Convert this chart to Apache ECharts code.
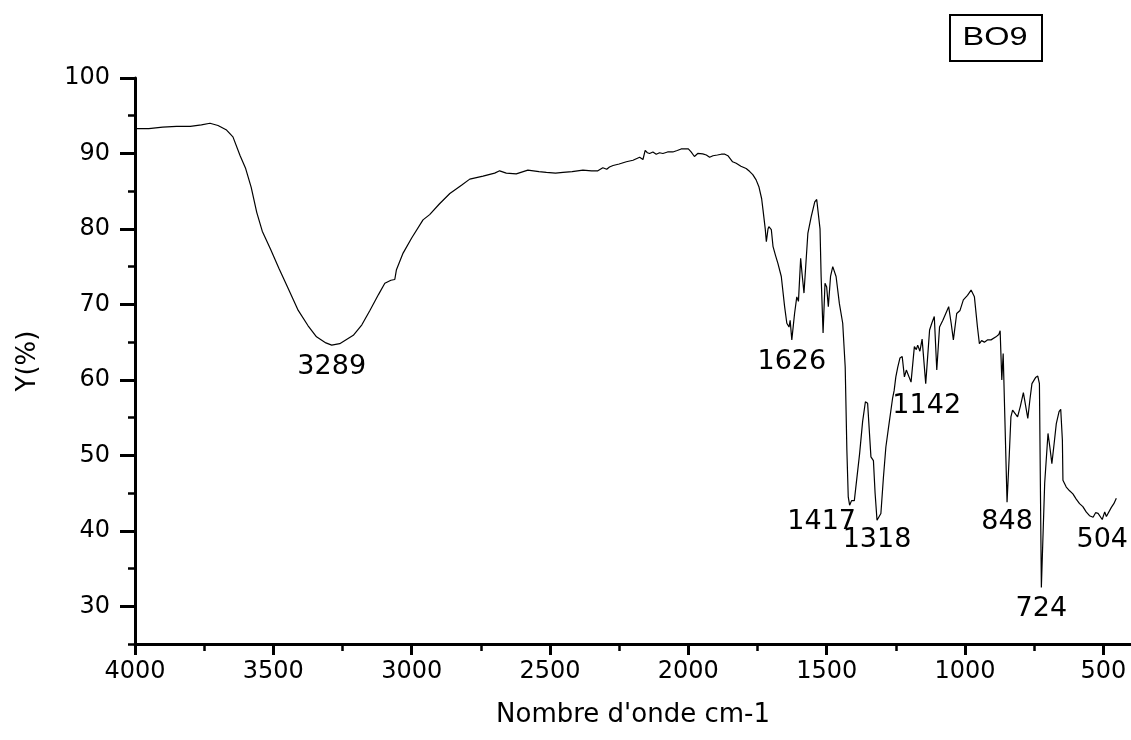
<!DOCTYPE html>
<html>
<head>
<meta charset="utf-8">
<title>BO9 IR spectrum</title>
<script src="https://cdn.jsdelivr.net/npm/echarts@6/dist/echarts.min.js"></script>
<style>
  html, body { margin: 0; padding: 0; background: #fff; }
  #chart { width: 1131px; height: 740px; }
</style>
</head>
<body>
<div id="chart"></div>
<script>
// Wavenumber (cm-1) and transmittance (%) of sample BO9
var wavenumber = [
  4000, 3950, 3900, 3850, 3800, 3760, 3729, 3700, 3669, 3646, 3620, 3600, 3580, 3560, 3540,
  3510, 3480, 3450, 3410, 3375, 3344, 3310, 3289, 3260, 3211, 3180, 3151, 3120, 3097, 3075,
  3061, 3055, 3031, 3000, 2959, 2935, 2900, 2862, 2820, 2790, 2742, 2700, 2682, 2658, 2622,
  2580, 2540, 2513, 2480, 2453, 2420, 2381, 2350, 2327, 2320, 2309, 2295, 2285, 2272, 2250,
  2224, 2200, 2188, 2176, 2164, 2156, 2148, 2140, 2128, 2116, 2104, 2092, 2075, 2056, 2040,
  2026, 2008, 2000, 1990, 1978, 1966, 1948, 1935, 1923, 1911, 1895, 1881, 1868, 1857, 1840,
  1827, 1810, 1791, 1778, 1767, 1755, 1745, 1735, 1730, 1722, 1718, 1712, 1709, 1700, 1694,
  1685, 1676, 1664, 1652, 1644, 1636, 1632, 1626, 1616, 1608, 1602, 1594, 1589, 1582, 1576,
  1568, 1556, 1543, 1536, 1530, 1524, 1520, 1513, 1506, 1500, 1494, 1486, 1478, 1466, 1454,
  1442, 1433, 1427, 1422, 1417, 1410, 1400, 1381, 1370, 1360, 1352, 1340, 1331, 1325, 1318,
  1304, 1295, 1286, 1276, 1262, 1256, 1250, 1243, 1235, 1227, 1219, 1212, 1207, 1195, 1183,
  1176, 1171, 1163, 1155, 1142, 1128, 1120, 1111, 1102, 1092, 1080, 1059, 1050, 1042, 1030,
  1018, 1006, 991, 978, 966, 955, 948, 940, 930, 918, 906, 888, 878, 873, 867,
  862, 856, 848, 840, 834, 828, 822, 810, 800, 789, 773, 765, 758, 745, 737,
  731, 724, 712, 700, 693, 686, 678, 670, 660, 654, 648, 646, 634, 622, 610,
  598, 586, 574, 562, 550, 537, 528, 519, 504, 495, 489, 483, 471, 462, 453
];
var transmittance = [
  93.3, 93.3, 93.5, 93.6, 93.6, 93.8, 94.0, 93.7, 93.1, 92.2, 89.7, 88.0, 85.5, 82.2, 79.7,
  77.3, 74.8, 72.4, 69.2, 67.2, 65.7, 64.9, 64.6, 64.8, 65.9, 67.3, 69.2, 71.3, 72.8, 73.2,
  73.3, 74.6, 76.8, 78.8, 81.2, 81.9, 83.3, 84.7, 85.8, 86.6, 87.0, 87.4, 87.7, 87.4, 87.3,
  87.8, 87.6, 87.5, 87.4, 87.5, 87.6, 87.8, 87.7, 87.7, 87.6, 88.1, 87.9, 88.2, 88.4, 88.6,
  88.9, 89.1, 89.3, 89.5, 89.2, 90.4, 90.1, 90.0, 90.2, 89.9, 90.1, 90.0, 90.2, 90.2, 90.4,
  90.6, 90.6, 90.6, 90.2, 89.6, 90.0, 89.95, 89.8, 89.5, 89.7, 89.8, 89.9, 89.9, 89.7, 88.9,
  88.7, 88.3, 88.0, 87.6, 87.2, 86.5, 85.6, 84.0, 82.5, 80.0, 78.3, 80.0, 80.3, 79.9, 77.7,
  76.5, 75.4, 73.7, 69.7, 67.5, 67.0, 67.9, 65.3, 68.8, 71.0, 70.4, 76.1, 74.1, 71.5, 71.7,
  79.4, 81.6, 83.6, 83.9, 83.8, 80.0, 73.7, 66.2, 72.8, 72.3, 69.7, 73.7, 75.0, 73.7, 70.1,
  67.5, 61.7, 50.7, 44.5, 43.4, 44.0, 44.0, 50.2, 54.5, 57.1, 56.9, 49.8, 49.3, 45.0, 41.4,
  42.3, 47.0, 51.1, 53.8, 57.5, 58.6, 60.4, 61.7, 62.9, 63.1, 60.4, 61.3, 61.1, 59.7, 64.4,
  64.0, 64.6, 63.8, 65.4, 59.5, 66.6, 67.5, 68.4, 61.3, 67.0, 67.9, 69.7, 67.5, 65.3, 68.8,
  69.2, 70.6, 71.2, 71.9, 71.0, 67.0, 64.8, 65.2, 65.0, 65.3, 65.3, 65.7, 66.0, 66.5, 60.0,
  63.5, 55.0, 43.8, 50.0, 55.1, 56.0, 56.0, 55.1, 56.5, 58.3, 54.9, 57.5, 59.5, 60.3, 60.5,
  59.5, 32.5, 46.3, 52.9, 51.0, 48.9, 51.5, 54.2, 55.8, 56.1, 52.0, 46.7, 45.8, 45.3, 44.9,
  44.2, 43.6, 43.2, 42.5, 42.0, 41.8, 42.4, 42.3, 41.5, 42.5, 41.9, 41.8, 43.1, 43.6, 44.3
];

// Labelled absorption bands (wavenumbers written under the peaks)
var peakBands = [3289, 1626, 1417, 1318, 1142, 848, 724, 504];
var peakLabelOffsets = [[0, 22], [0, 22], [-28, 17], [0, 20], [1, 22], [0, 20], [0, 22], [0, 21]];

// Axis ticks
var xMajorTicks = [4000, 3500, 3000, 2500, 2000, 1500, 1000, 500];
var xMinorTicks = [3750, 3250, 2750, 2250, 1750, 1250, 750];
var yMajorTicks = [30, 40, 50, 60, 70, 80, 90, 100];
var yMinorTicks = [25, 35, 45, 55, 65, 75, 85, 95];

var sampleName = 'BO9';
var xTitle = "Nombre d'onde cm-1";
var yTitle = 'Y(%)';

var FONT = 'DejaVu Sans';
var points = wavenumber.map(function (w, i) { return [w, transmittance[i]]; });

var markData = peakBands.map(function (w, i) {
  var idx = wavenumber.indexOf(w);
  return {
    name: String(w),
    coord: [w, transmittance[idx]],
    label: { offset: peakLabelOffsets[i] }
  };
});

function plainNumber(v) { return String(v); }

var chart = echarts.init(document.getElementById('chart'), null, { renderer: 'canvas' });

var X_MIN = 400, X_MAX = 4000, Y_MIN = 25, Y_MAX = 100;

chart.setOption({
  animation: false,
  backgroundColor: '#ffffff',
  grid: { left: 135, right: 0, top: 78, bottom: 96, containLabel: false },
  xAxis: [
    {
      type: 'value', inverse: true, min: X_MIN, max: X_MAX, position: 'bottom',
      name: xTitle, nameLocation: 'middle', nameGap: 58,
      nameTextStyle: { fontFamily: FONT, fontSize: 26, color: '#000' },
      axisLine: { show: true, lineStyle: { color: '#000', width: 3 } },
      axisTick: { show: true, inside: false, length: 11, customValues: xMajorTicks,
                  lineStyle: { color: '#000', width: 3 } },
      axisLabel: { show: true, margin: 16, customValues: xMajorTicks, formatter: plainNumber,
                   fontFamily: FONT, fontSize: 24, color: '#000' },
      splitLine: { show: false }
    },
    {
      type: 'value', inverse: true, min: X_MIN, max: X_MAX, position: 'bottom', offset: 0,
      axisLine: { show: false },
      axisTick: { show: true, length: 7, customValues: xMinorTicks,
                  lineStyle: { color: '#000', width: 2.5 } },
      axisLabel: { show: false },
      splitLine: { show: false }
    }
  ],
  yAxis: [
    {
      type: 'value', min: Y_MIN, max: Y_MAX, position: 'left',
      name: yTitle, nameLocation: 'middle', nameGap: 94,
      nameTextStyle: { fontFamily: FONT, fontSize: 26, color: '#000' },
      axisLine: { show: true, lineStyle: { color: '#000', width: 3 } },
      axisTick: { show: true, length: 15, customValues: yMajorTicks,
                  lineStyle: { color: '#000', width: 3 } },
      axisLabel: { show: true, margin: 25, customValues: yMajorTicks, formatter: plainNumber,
                   fontFamily: FONT, fontSize: 24, color: '#000' },
      splitLine: { show: false }
    },
    {
      type: 'value', min: Y_MIN, max: Y_MAX, position: 'left', offset: 0,
      axisLine: { show: false },
      axisTick: { show: true, length: 7, customValues: yMinorTicks,
                  lineStyle: { color: '#000', width: 2.5 } },
      axisLabel: { show: false },
      splitLine: { show: false }
    }
  ],
  series: [
    {
      type: 'line',
      xAxisIndex: 0, yAxisIndex: 0,
      data: points,
      showSymbol: false,
      symbol: 'none',
      lineStyle: { color: '#000', width: 1.2 },
      markPoint: {
        symbol: 'circle', symbolSize: 0,
        label: {
          show: true, formatter: '{b}', position: 'inside',
          fontFamily: FONT, fontSize: 27, color: '#000'
        },
        data: markData
      }
    }
  ],
  graphic: [
    {
      type: 'rect', left: 949, top: 14,
      shape: { width: 92, height: 46 },
      style: { fill: '#fff', stroke: '#000', lineWidth: 2 }
    },
    {
      type: 'text', x: 995, y: 38, scaleX: 1.3, originX: 0, originY: 0,
      style: { text: sampleName, fontFamily: 'Liberation Sans', fontSize: 25,
               fill: '#000', align: 'center', verticalAlign: 'middle' }
    }
  ]
});
</script>
</body>
</html>
